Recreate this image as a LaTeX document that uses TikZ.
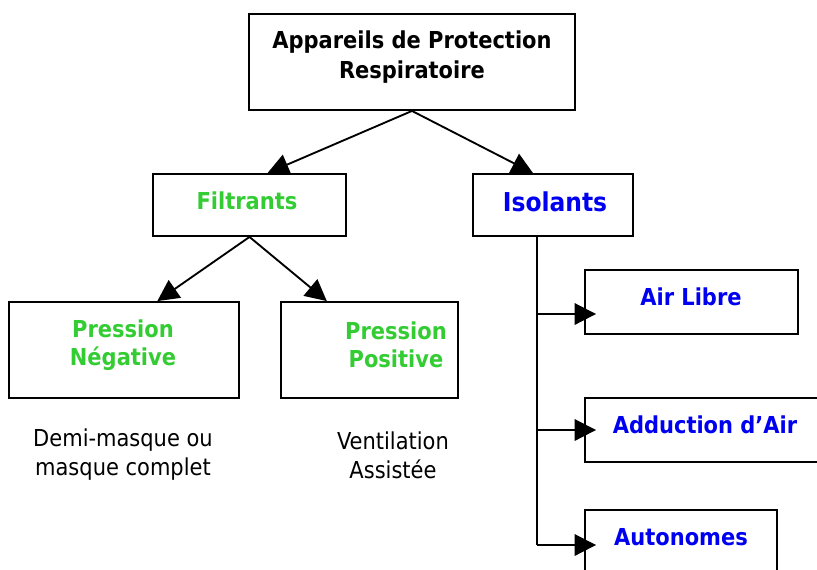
\documentclass[tikz,border=0pt]{standalone}
\usepackage{fontspec}
\setmainfont{DejaVu Sans Condensed}
\usepackage{xcolor}
\usetikzlibrary{arrows.meta, calc}

\definecolor{filtgreen}{RGB}{51,204,51}
\definecolor{isolblue}{RGB}{0,0,240}

\tikzset{
  box/.style={draw, line width=1.4pt, inner sep=0pt},
  head/.style={font=\bfseries\fontsize{17.5}{22.5}\selectfont, align=center},
  sub/.style={font=\fontsize{17.5}{21.75}\selectfont, align=center},
  arr/.style={line width=1.4pt, -{Triangle[length=16pt,width=16pt]}}
}

\begin{document}
\begin{tikzpicture}[x=0.75pt,y=0.75pt,yscale=-1,xscale=1]
\useasboundingbox (0,0) rectangle (817,569);

%Shape: Rectangle
\node [box, minimum width=244.5pt, minimum height=72pt] (apr) at (412,62) {};
%Shape: Rectangle
\node [box, minimum width=144.75pt, minimum height=46.5pt] (filt) at (249.5,205) {};
%Shape: Rectangle
\node [box, minimum width=120pt, minimum height=46.5pt] (isol) at (553,205) {};
%Shape: Rectangle
\node [box, minimum width=172.5pt, minimum height=72pt] (neg) at (124,350) {};
%Shape: Rectangle
\node [box, minimum width=132.75pt, minimum height=72pt] (pos) at (369.5,350) {};
%Shape: Rectangle
\node [box, minimum width=159.75pt, minimum height=48pt] (air) at (691.5,302) {};
%Shape: Rectangle
\node [box, minimum width=191.25pt, minimum height=48pt] (adduc) at (712.5,430) {};
%Shape: Rectangle
\node [box, minimum width=144pt, minimum height=60pt] (auton) at (681,550) {};

%Straight Lines
\draw [arr] (apr.south) -- ([xshift=13.5pt]filt.north) ;
\draw [arr] (apr.south) -- ([xshift=-15pt]isol.north) ;
\draw [arr] (filt.south) -- ([xshift=25pt]neg.north) ;
\draw [arr] (filt.south) -- ([xshift=-32pt]pos.north) ;

%Straight Lines
\coordinate (trunk) at ([xshift=-12pt]isol.south) ;
\coordinate (br1) at (trunk |- 0,314) ;
\coordinate (br2) at (trunk |- 0,430) ;
\coordinate (br3) at (trunk |- 0,545) ;
\draw [line width=1.4pt] (trunk) -- (br3) ;
\draw [arr] (br1) -- ($(br1 -| air.west)+(12,0)$) ;
\draw [arr] (br2) -- ($(br2 -| adduc.west)+(12,0)$) ;
\draw [arr] (br3) -- ($(br3 -| auton.west)+(12,0)$) ;

% Text Node
\node [head] (aprtxt) at (412,57) {Appareils de Protection\\Respiratoire};
% Text Node
\node [head, text=filtgreen] (filttxt) at (247,201) {Filtrants};
% Text Node
\node [head, text=isolblue, font=\bfseries\fontsize{19.5}{22}\selectfont] (isoltxt) at (555,202) {Isolants};
% Text Node
\node [head, text=filtgreen, font=\bfseries\fontsize{17.5}{21}\selectfont] (negtxt) at (123,345) {Pression\\Négative};
% Text Node
\node [head, text=filtgreen, font=\bfseries\fontsize{17.5}{21}\selectfont] (postxt) at (396,345) {Pression\\Positive};
% Text Node
\node [sub] (negsub) at (123,455) {Demi-masque ou\\masque complet};
% Text Node
\node [sub] (possub) at (393,455) {Ventilation\\Assistée};
% Text Node
\node [head, text=isolblue] (airtxt) at (691,297) {Air Libre};
% Text Node
\node [head, text=isolblue] (adductxt) at (705,425) {Adduction d’Air};
% Text Node
\node [head, text=isolblue] (autontxt) at (681,537) {Autonomes};

\end{tikzpicture}
\end{document}
